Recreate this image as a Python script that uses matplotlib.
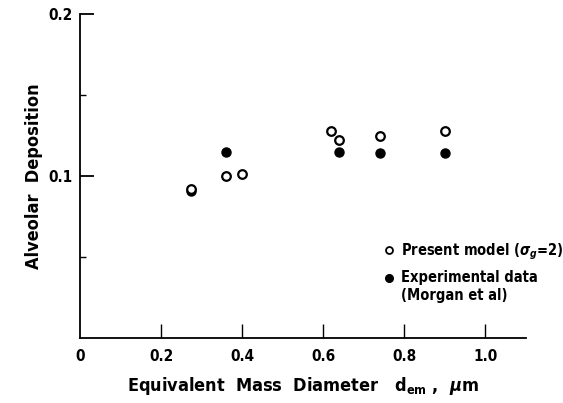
import matplotlib
matplotlib.use('Agg')
import matplotlib.pyplot as plt
from matplotlib.lines import Line2D

# alveolar deposition vs. equivalent mass diameter
model_d = [0.275, 0.36, 0.40, 0.62, 0.64, 0.74, 0.90]
model_dep = [0.092, 0.100, 0.101, 0.128, 0.122, 0.125, 0.128]
exp_d = [0.275, 0.36, 0.64, 0.74, 0.90]
exp_dep = [0.091, 0.115, 0.115, 0.114, 0.114]

xticks = [0, 0.2, 0.4, 0.6, 0.8, 1.0]
xticklabels = ['0', '0.2', '0.4', '0.6', '0.8', '1.0']
yticks = [0.1, 0.2]
yticklabels = ['0.1', '0.2']
yminor = [0.05, 0.15]

plt.rcParams['font.family'] = ['DejaVu Sans']
plt.rcParams['font.stretch'] = 'condensed'
plt.rcParams['font.weight'] = 'bold'
plt.rcParams['axes.labelweight'] = 'bold'
plt.rcParams['mathtext.fontset'] = 'dejavusans'

fig = plt.figure(figsize=(5.63, 4.03), dpi=100)
ax = fig.add_axes([0.142, 0.161, 0.792, 0.804])

ax.plot(exp_d, exp_dep, 'o', color='k', ms=6.5, zorder=2)
ax.plot(model_d, model_dep, 'o', mfc='white', mec='k', mew=1.6, ms=6.2, zorder=3)

ax.set_xlim(0, 1.1)
ax.set_ylim(0, 0.2)
for s in ['top', 'right']:
    ax.spines[s].set_visible(False)
for s in ['left', 'bottom']:
    ax.spines[s].set_linewidth(1.3)

ax.set_xticks(xticks)
ax.set_xticklabels(xticklabels, fontsize=11)
ax.set_yticks(yticks)
ax.set_yticklabels(yticklabels, fontsize=11)
ax.set_yticks(yminor, minor=True)
ax.tick_params(axis='x', direction='in', length=10, width=1, pad=8)
ax.tick_params(axis='y', direction='in', length=10, width=1.3, pad=5)
ax.tick_params(axis='y', which='minor', direction='in', length=4, width=1)
ax.xaxis.get_major_ticks()[0].tick1line.set_visible(False)

ax.set_xlabel('Equivalent  Mass  Diameter   d$_{\\mathregular{em}}$ ,  $\\mu$m', fontsize=13, labelpad=8)
ax.set_ylabel('Alveolar  Deposition', fontsize=13, labelpad=4)

handles = [
    Line2D([], [], ls='none', marker='o', mfc='white', mec='k', mew=1.3, ms=5),
    Line2D([], [], ls='none', marker='o', color='k', ms=5.5),
]
labels = ['Present model ($\\sigma_g$=2)', 'Experimental data\n(Morgan et al)']
leg = ax.legend(handles, labels, loc='upper left', bbox_to_anchor=(0.67, 0.318),
                frameon=False, fontsize=10.5, handlelength=0.6, handletextpad=0.5,
                labelspacing=0.6, borderaxespad=0)
# line the filled marker up with the first line of its two-line label
h = leg.legend_handles[1]
h.set_ydata([y + 6.5 for y in h.get_ydata()])

fig.savefig('out.png', dpi=100)
